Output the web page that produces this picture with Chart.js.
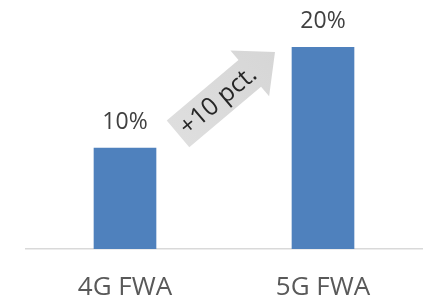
<!DOCTYPE html>
<html>
<head>
<meta charset="utf-8">
<script src="https://cdn.jsdelivr.net/npm/chart.js@4"></script>
<style>
    html, body { margin: 0; padding: 0; background: #fff; }
    #wrap { width: 429px; height: 300px; }
</style>
</head>
<body>
<div id="wrap"><canvas id="chart" width="429" height="300"></canvas></div>
<script>
const categories = ['4G FWA', '5G FWA'];
const shares = [10, 20];
const valueLabels = ['10%', '20%'];
const arrowText = '+10 pct.';

const FONT = '"Open Sans", "Noto Sans", sans-serif';

// value labels above bars
const barLabels = {
    id: 'barLabels',
    afterDatasetsDraw(chart) {
        const ctx = chart.ctx;
        const meta = chart.getDatasetMeta(0);
        ctx.save();
        ctx.font = '23px ' + FONT;
        ctx.fillStyle = '#404040';
        ctx.textAlign = 'center';
        ctx.textBaseline = 'middle';
        meta.data.forEach((bar, i) => {
            ctx.fillText(valueLabels[i], bar.x, bar.y - 26);
        });
        ctx.restore();
    }
};

// grey growth arrow between the bars
const growthArrow = {
    id: 'growthArrow',
    afterDatasetsDraw(chart) {
        const ctx = chart.ctx;
        const meta = chart.getDatasetMeta(0);
        const y = chart.scales.y;
        const b0 = meta.data[0], b1 = meta.data[1];
        const x0 = b0.x + b0.width / 2 + 22;
        const y0 = y.getPixelForValue(11.4);
        const x1 = b1.x - b1.width / 2 - 17;
        const y1 = y.getPixelForValue(19.5);
        const len = Math.hypot(x1 - x0, y1 - y0);
        const ang = Math.atan2(y1 - y0, x1 - x0);
        const body = 35, head = 60, headLen = 33;

        ctx.save();
        ctx.translate(x0, y0);
        ctx.rotate(ang);
        const grad = ctx.createLinearGradient(0, 0, len, 0);
        grad.addColorStop(0, '#dedede');
        grad.addColorStop(1, '#d6d6d6');
        ctx.fillStyle = grad;
        ctx.beginPath();
        ctx.moveTo(0, -body / 2);
        ctx.lineTo(len - headLen, -body / 2);
        ctx.lineTo(len - headLen, -head / 2);
        ctx.lineTo(len, 0);
        ctx.lineTo(len - headLen, head / 2);
        ctx.lineTo(len - headLen, body / 2);
        ctx.lineTo(0, body / 2);
        ctx.closePath();
        ctx.fill();

        ctx.font = '25px ' + FONT;
        ctx.fillStyle = '#262626';
        ctx.textAlign = 'center';
        ctx.textBaseline = 'middle';
        ctx.fillText(arrowText, len * 0.41, 1);
        ctx.restore();
    }
};

new Chart(document.getElementById('chart'), {
    type: 'bar',
    data: {
        labels: categories,
        datasets: [{
            data: shares,
            backgroundColor: '#4f81bd',
            barThickness: 62
        }]
    },
    options: {
        responsive: false,
        animation: false,
        layout: { padding: { left: 26, right: 7, top: 47, bottom: 0 } },
        plugins: { legend: { display: false }, tooltip: { enabled: false } },
        scales: {
            x: {
                grid: { display: false, drawTicks: false },
                border: { color: '#d9d9d9', width: 1.5 },
                ticks: { color: '#595959', font: { family: FONT, size: 26 }, padding: 23 },
                afterFit(scale) { scale.height = 51; }
            },
            y: { display: false, min: 0, max: 20 }
        }
    },
    plugins: [barLabels, growthArrow]
});
</script>
</body>
</html>
